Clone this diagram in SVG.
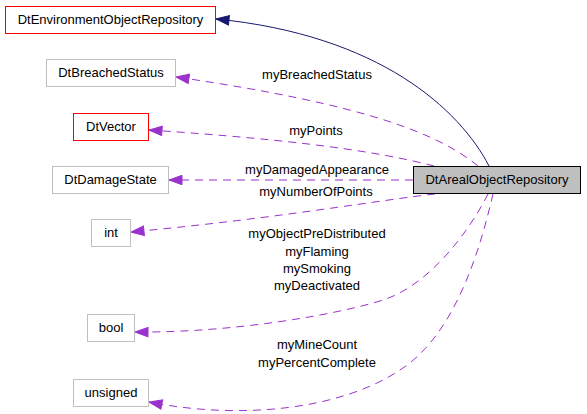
<svg xmlns="http://www.w3.org/2000/svg" width="587" height="414" viewBox="0 0 587 414">
<style>
text{font-family:"Liberation Sans",Arial,sans-serif;font-size:13px;fill:#000;text-anchor:middle}
.red{fill:#fff;stroke:#ff0000;stroke-width:1}
.gray{fill:#fff;stroke:#bfbfbf;stroke-width:1}
.main{fill:#bfbfbf;stroke:#000;stroke-width:1}
.dep{fill:none;stroke:#9a32cd;stroke-width:1;stroke-dasharray:8,6;marker-end:url(#ap)}
.inh{fill:none;stroke:#191970;stroke-width:1;marker-end:url(#an)}
</style>
<defs>
<marker id="ap" markerUnits="userSpaceOnUse" markerWidth="14" markerHeight="11" refX="13" refY="5" orient="auto" overflow="visible">
<path d="M0,0.3 L13,5 L0,9.7 z" fill="#9a32cd" stroke="#9a32cd" stroke-width="1"/>
</marker>
<marker id="an" markerUnits="userSpaceOnUse" markerWidth="14" markerHeight="11" refX="13" refY="5" orient="auto" overflow="visible">
<path d="M0,0.3 L13,5 L0,9.7 z" fill="#191970" stroke="#191970" stroke-width="1"/>
</marker>
</defs>
<rect width="587" height="414" fill="#fff"/>
<g id="connectors">
<path class="inh" d="M489,166 C460,110 380,35 216,19"/>
<path class="dep" d="M478,166 C440,135 370,105 176,77"/>
<path class="dep" d="M434,166 C380,152 300,140 149,130"/>
<path class="dep" d="M413,180 L169,180"/>
<path class="dep" d="M435,194 C380,200 280,218 131,232"/>
<path class="dep" d="M488,194 C470,230 430,285 383,300 C336,315 230,333 135,332"/>
<path class="dep" d="M493,194 C480,250 455,335 400,370 C340,410 240,420 149,402"/>
<g id="edge-labels">
<text x="317" y="79">myBreachedStatus</text>
<text x="316" y="135">myPoints</text>
<text x="317" y="174">myDamagedAppearance</text>
<text x="316" y="196">myNumberOfPoints</text>
<text x="317" y="238">myObjectPreDistributed</text>
<text x="317" y="256">myFlaming</text>
<text x="317" y="273">mySmoking</text>
<text x="317" y="290">myDeactivated</text>
<text x="317" y="349">myMineCount</text>
<text x="317" y="367">myPercentComplete</text>
</g>
</g>
<g id="node-DtArealObjectRepository">
<rect class="main" x="413.5" y="166.5" width="167" height="27"/>
<text x="497" y="184">DtArealObjectRepository</text>
</g>
<g id="node-DtEnvironmentObjectRepository">
<rect class="red" x="5.5" y="6.5" width="210" height="27"/>
<text x="110.5" y="24">DtEnvironmentObjectRepository</text>
</g>
<g id="node-DtBreachedStatus">
<rect class="gray" x="46.5" y="59.5" width="129" height="27"/>
<text x="111" y="77">DtBreachedStatus</text>
</g>
<g id="node-DtVector">
<rect class="red" x="73.5" y="113.5" width="75" height="27"/>
<text x="111" y="131">DtVector</text>
</g>
<g id="node-DtDamageState">
<rect class="gray" x="52.5" y="166.5" width="116" height="27"/>
<text x="110.5" y="184">DtDamageState</text>
</g>
<g id="node-int">
<rect class="gray" x="91.5" y="219.5" width="39" height="27"/>
<text x="111" y="237">int</text>
</g>
<g id="node-bool">
<rect class="gray" x="87.5" y="314.5" width="47" height="27"/>
<text x="111" y="332">bool</text>
</g>
<g id="node-unsigned">
<rect class="gray" x="73.5" y="379.5" width="75" height="27"/>
<text x="111" y="397">unsigned</text>
</g>
</svg>
